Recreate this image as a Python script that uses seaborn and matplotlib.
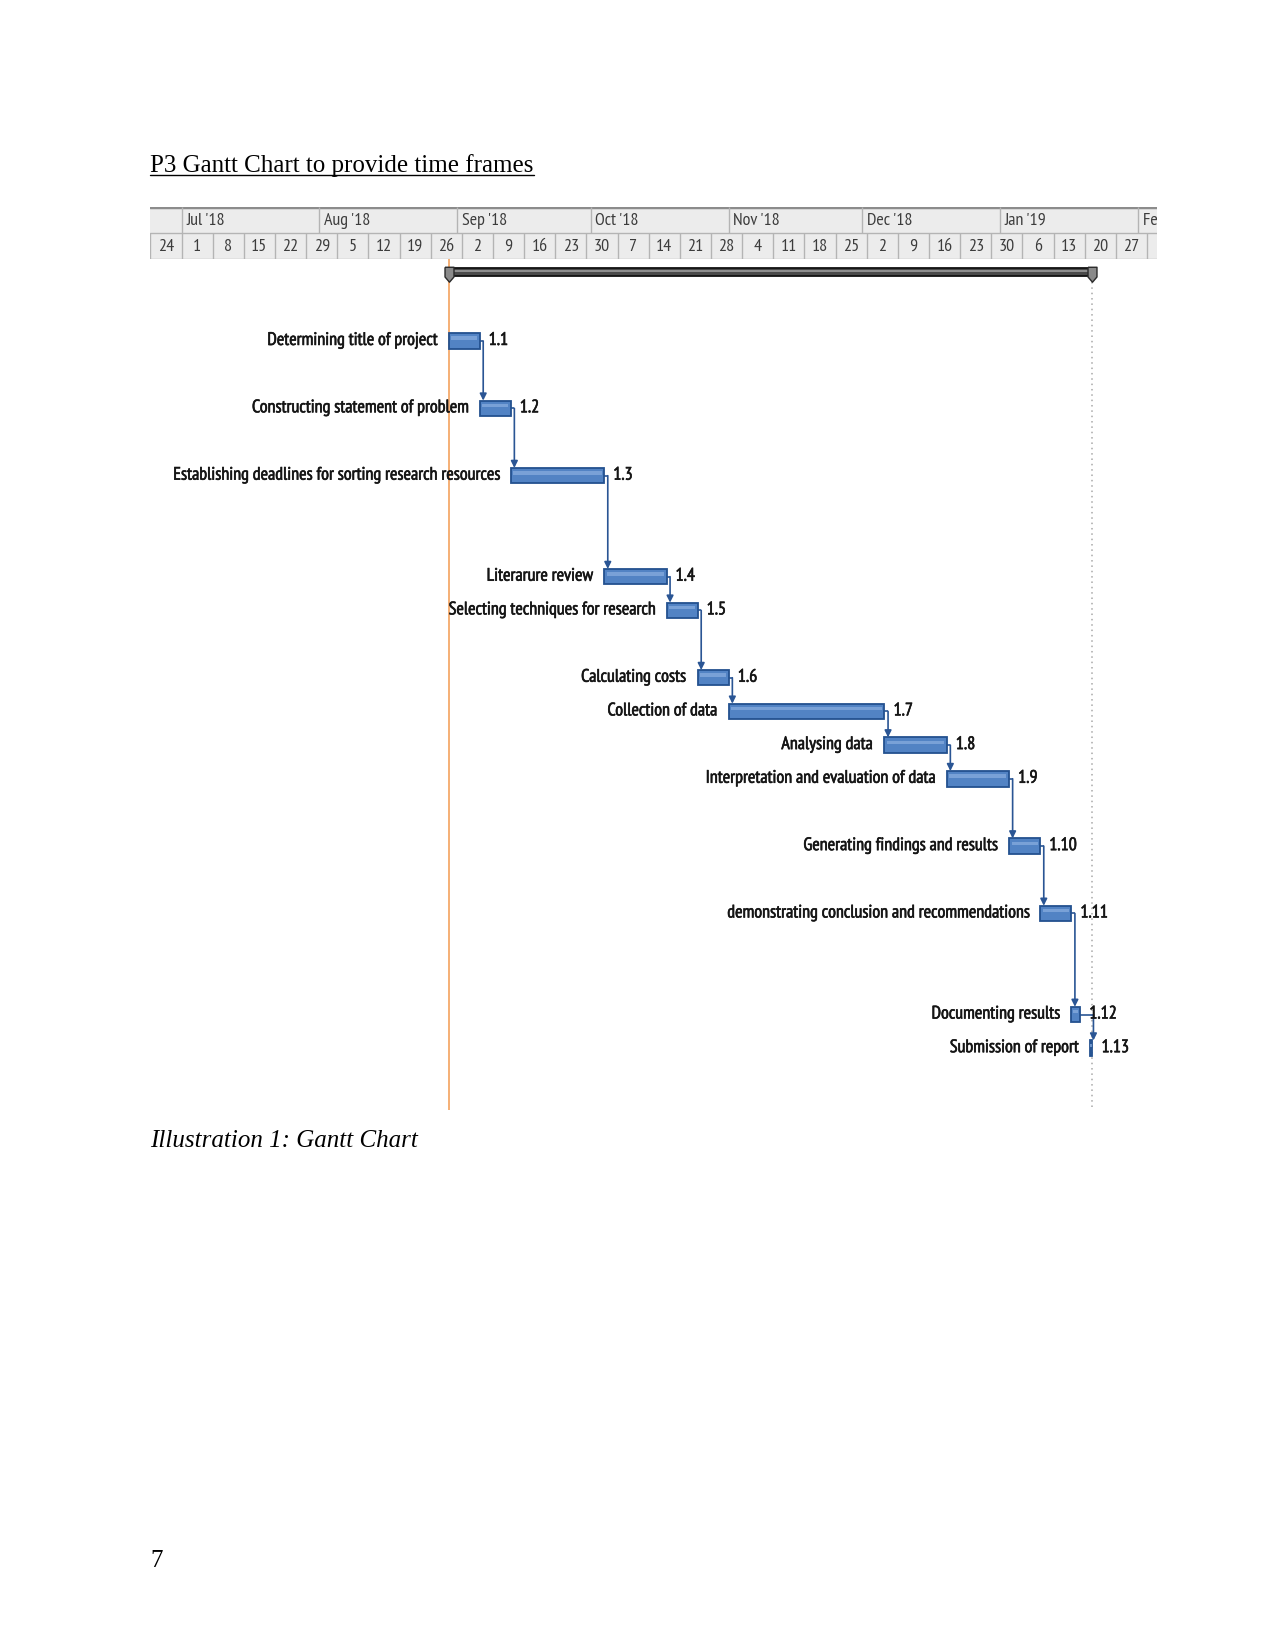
import numpy as np
import pandas as pd
import matplotlib
matplotlib.use("Agg")
import matplotlib.pyplot as plt
import matplotlib.dates as mdates
import matplotlib.patheffects as pe
from matplotlib.lines import Line2D
import seaborn as sns

# ---------------- data ----------------
task_ids = ["1.1", "1.2", "1.3", "1.4", "1.5", "1.6", "1.7", "1.8", "1.9",
            "1.10", "1.11", "1.12", "1.13"]
task_names = [
    "Determining title of project",
    "Constructing statement of problem",
    "Establishing deadlines for sorting research resources",
    "Literarure review",
    "Selecting techniques for research",
    "Calculating costs",
    "Collection of data",
    "Analysing data",
    "Interpretation and evaluation of data",
    "Generating findings and results",
    "demonstrating conclusion and recommendations",
    "Documenting results",
    "Submission of report",
]
task_start = ["2018-08-30 00:00", "2018-09-06 00:00", "2018-09-13 00:00", "2018-10-04 00:00",
              "2018-10-18 00:00", "2018-10-25 00:00", "2018-11-01 00:00", "2018-12-06 00:00",
              "2018-12-20 00:00", "2019-01-03 00:00", "2019-01-10 00:00", "2019-01-17 00:00",
              "2019-01-21 04:00"]
task_finish = ["2018-09-06 00:00", "2018-09-13 00:00", "2018-10-04 00:00", "2018-10-18 00:00",
               "2018-10-25 00:00", "2018-11-01 00:00", "2018-12-06 00:00", "2018-12-20 00:00",
               "2019-01-03 00:00", "2019-01-10 00:00", "2019-01-17 00:00", "2019-01-19 00:00",
               "2019-01-21 18:00"]
# number of view rows each task line occupies (row heights of the original view)
row_span = [2, 2, 3, 1, 2, 1, 1, 1, 2, 2, 3, 1, 1]

project_start = "2018-08-30 00:00"
project_finish = "2019-01-21 18:00"

timescale_start = "2018-06-24 00:00"
timescale_end = "2019-02-05 07:00"
week_starts = pd.date_range("2018-06-24", "2019-02-03", freq="7D")
week_labels = ["24", "1", "8", "15", "22", "29", "5", "12", "19", "26", "2", "9",
               "16", "23", "30", "7", "14", "21", "28", "4", "11", "18", "25", "2",
               "9", "16", "23", "30", "6", "13", "20", "27"]
month_starts = ["2018-07-01", "2018-08-01", "2018-09-01", "2018-10-01", "2018-11-01",
                "2018-12-01", "2019-01-01", "2019-02-01"]
month_labels = ["Jul '18", "Aug '18", "Sep '18", "Oct '18", "Nov '18", "Dec '18",
                "Jan '19", "Feb '19"]

title_text = "P3 Gantt Chart to provide time frames"
caption_text = "Illustration 1: Gantt Chart"
page_number = "7"


def to_num(values):
    return mdates.date2num(pd.to_datetime(values, format="ISO8601"))


# ---------------- style ----------------
sns.set_theme(style="white")
NARROW = ["PT Sans Narrow", "Archivo Narrow", "Fira Sans Condensed", "DejaVu Sans"]
SERIF = ["Liberation Serif", "DejaVu Serif"]
plt.rcParams["font.family"] = NARROW

BAR = "#5283c4"
BAR_EDGE = "#23518f"
BAR_HI = "#8aaee0"
LINK = "#2a5594"
LABEL_FS = 13
LABEL_FX = [pe.withStroke(linewidth=0.45, foreground="#151515")]

W, H = 1212.0, 1568.0
fig = plt.figure(figsize=(12.75, 16.5), dpi=100)
fig.patch.set_facecolor("white")

left, right = 143 / W, 1100 / W
hdr_top, hdr_bot = 197 / H, 246 / H
main_bot = 1055 / H

ax_h = fig.add_axes([left, 1 - hdr_bot, right - left, hdr_bot - hdr_top])
ax = fig.add_axes([left, 1 - main_bot, right - left, main_bot - hdr_bot])

x0 = to_num([timescale_start])[0]
x1 = to_num([timescale_end])[0]

# ---------------- header ----------------
ax_h.set_xlim(x0, x1)
ax_h.set_ylim(0, 2)
ax_h.set_facecolor("#ececec")
for s in ax_h.spines.values():
    s.set_visible(False)
ax_h.set_xticks([])
ax_h.set_yticks([])
ax_h.axhline(2, color="#8c8c8c", lw=2.5)
ax_h.axhline(1, color="#b4b4b4", lw=1)
ax_h.axhline(0, color="#b4b4b4", lw=1)
ws = mdates.date2num(week_starts)
ax_h.vlines(ws, 0, 1, colors="#b4b4b4", lw=1)
ms = to_num(month_starts)
ax_h.vlines(ms, 1, 2, colors="#b4b4b4", lw=1)
for xw, lab in zip(ws[:len(week_labels)], week_labels):
    ax_h.text(xw + 3.5, 0.47, lab, ha="center", va="center", fontsize=13,
              color="#3c3c3c", family=NARROW)
for xm, lab in zip(ms, month_labels):
    ax_h.text(xm + 1.0, 1.47, lab, ha="left", va="center", fontsize=13,
              color="#3c3c3c", family=NARROW, clip_on=True)

# ---------------- main gantt ----------------
ypos = np.concatenate([[0], np.cumsum(row_span[:-1])]).astype(float)
st = to_num(task_start)
fi = to_num(task_finish)
dur = fi - st
df = pd.DataFrame({"row": ypos, "start": st, "dur": dur})

bar_h = 0.46
sns.barplot(data=df, x="dur", y="row", orient="h", native_scale=True,
            left=df["start"].values, width=bar_h, color=BAR, saturation=1,
            edgecolor=BAR_EDGE, linewidth=1.3, errorbar=None, ax=ax, zorder=3)
# soft highlight in the upper part of each bar
inset = np.minimum(0.6, dur * 0.2)
ax.barh(ypos - bar_h * 0.18, dur - 2 * inset, left=st + inset, height=bar_h * 0.22,
        color=BAR_HI, lw=0, zorder=4, alpha=0.7)

y_top, y_bot = -2.4375, 22.84
ax.set_xlim(x0, x1)
ax.set_ylim(y_bot, y_top)
for s in ax.spines.values():
    s.set_visible(False)
ax.set_xticks([])
ax.set_yticks([])
ax.set_xlabel("")
ax.set_ylabel("")
ax.set_facecolor("white")

# labels
for i in range(len(task_ids)):
    ax.annotate(task_names[i], xy=(st[i], ypos[i]), xytext=(-8.5, 0),
                textcoords="offset points", ha="right", va="center",
                fontsize=LABEL_FS, color="#151515", family=NARROW, zorder=6,
                path_effects=LABEL_FX)
    ax.annotate(task_ids[i], xy=(fi[i], ypos[i]), xytext=(6.5, 0),
                textcoords="offset points", ha="left", va="center",
                fontsize=LABEL_FS, color="#151515", family=NARROW, zorder=6,
                path_effects=LABEL_FX)

# dependency links
for i in range(len(task_ids) - 1):
    xv = max(fi[i], st[i + 1]) + 0.8
    ax.plot([fi[i], xv], [ypos[i], ypos[i]], color=LINK, lw=1.2, zorder=2,
            solid_capstyle="butt")
    ax.annotate("", xy=(xv, ypos[i + 1] - bar_h / 2), xytext=(xv, ypos[i]),
                arrowprops=dict(arrowstyle="-|>", color=LINK, lw=1.2,
                                shrinkA=0, shrinkB=0, mutation_scale=10),
                zorder=2)

# project summary bar
ps = to_num([project_start])[0]
pf = to_num([project_finish])[0]
y_sum = -2.05
ax.barh([y_sum], [pf - ps], left=ps, height=0.22, color="#4a4a4a",
        edgecolor="#111111", lw=1.3, zorder=3)
ax.barh([y_sum - 0.04], [pf - ps], left=ps, height=0.06, color="#8e8e8e",
        lw=0, zorder=4)
cap = [(-0.3, 0.35), (0.3, 0.35), (0.3, -0.3), (0.0, -0.65), (-0.3, -0.3),
       (-0.3, 0.35)]
ax.plot([ps, pf], [y_sum, y_sum], ls="none", marker=cap, markersize=14,
        mfc="#8a8a8a", mec="#2a2a2a", mew=1.0, zorder=5)

# project start line and finish line
ax.axvline(ps, color="#f3a25e", lw=1.2, zorder=1)
ax.vlines(pf, y_sum + 0.3, y_bot, colors="#a8a8a8", linestyles=(0, (1, 2.5)),
          lw=1.1, zorder=1)

# ---------------- page text ----------------
t = fig.text(143 / W, 1 - 157 / H, title_text, family=SERIF, fontsize=18,
             ha="left", va="center", color="black")
fig.text(143 / W, 1 - 1084 / H, caption_text, family=SERIF, fontsize=18,
         style="italic", ha="left", va="center", color="black")
fig.text(143 / W, 1 - 1483 / H, page_number, family=SERIF, fontsize=18,
         ha="left", va="center", color="black")

fig.canvas.draw()
bb = t.get_window_extent(renderer=fig.canvas.get_renderer())
fw, fh = fig.bbox.width, fig.bbox.height
uy = (bb.y0 + 2) / fh
fig.add_artist(Line2D([bb.x0 / fw, bb.x1 / fw], [uy, uy], color="black", lw=1.0))

fig.savefig("out.png", dpi=100, facecolor="white")
